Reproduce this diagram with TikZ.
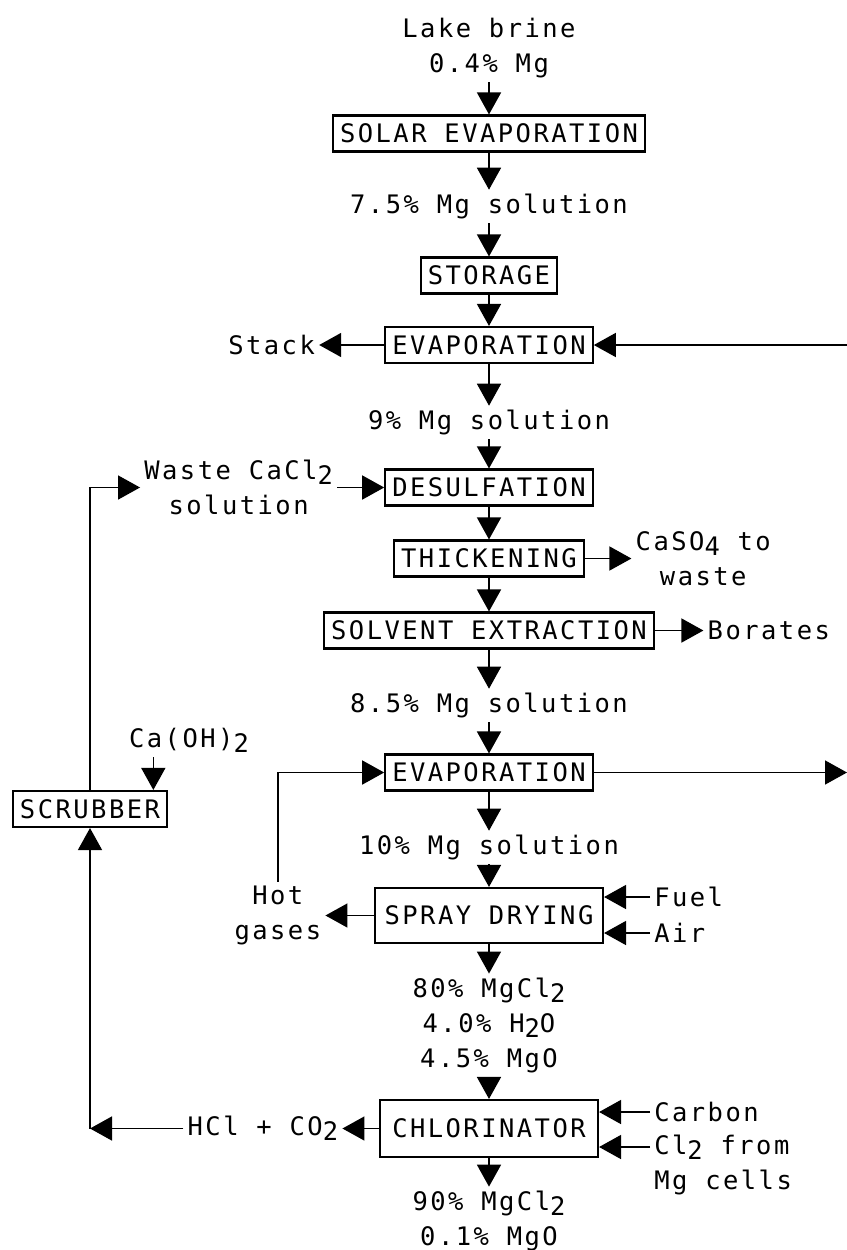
\documentclass[tikz,border=0pt]{standalone}
\usepackage{fontspec}
\newfontfamily\plotfont[LetterSpace=9.7]{DejaVu Sans Mono}
\usetikzlibrary{arrows.meta,positioning}
\newcommand\low[1]{\raisebox{-3pt}{#1}}

\begin{document}
\begin{tikzpicture}[x=0.2mm,y=-0.2mm,>={Triangle[length=4.4mm,width=4.8mm]},line width=0.9pt,
  every node/.style={font=\plotfont\fontsize{14.5}{20}\selectfont}]
  \tikzstyle{box}=[draw,line width=1.2pt,inner xsep=4pt,text height=10.6pt,text depth=0pt,minimum height=7.2mm]
  \tikzstyle{txt}=[inner sep=2pt,align=center]
  \useasboundingbox (0,0) rectangle (847,1250);
  % main column
  \node[txt] (lb) at (489,48) {Lake brine\\0.4\% Mg};
  \node[box] (se) at (489,133.5) {SOLAR EVAPORATION};
  \node[txt] (m1) at (489,206.5) {7.5\% Mg solution};
  \node[box] (st) at (489,275.5) {STORAGE};
  \node[box] (e1) at (489,345) {EVAPORATION};
  \node[txt] (m2) at (489,422.5) {9\% Mg solution};
  \node[box] (ds) at (489,487.5) {DESULFATION};
  \node[box] (th) at (489,558.5) {THICKENING};
  \node[box] (sx) at (489,630.5) {SOLVENT EXTRACTION};
  \node[txt] (m3) at (489,705.5) {8.5\% Mg solution};
  \node[box] (e2) at (489,772.5) {EVAPORATION};
  \node[txt] (m4) at (489,847.5) {10\% Mg solution};
  \node[box,minimum width=45.6mm,minimum height=11mm] (sp) at (489,915.5) {SPRAY DRYING};
  \node[txt] (m5) at (489,1025.5) {80\% MgCl\low{2}\\4.0\% H\low{2}O\\4.5\% MgO};
  \node[box,minimum width=43.6mm,minimum height=11.4mm] (ch) at (489,1128.5) {CHLORINATOR};
  \node[txt] (m6) at (489,1221) {90\% MgCl\low{2}\\0.1\% MgO};
  \draw[->] (lb) -- (se);
  \draw[->] (se) -- (m1);
  \draw[->] (m1) -- (st);
  \draw[->] (st) -- (e1);
  \draw[->] (e1) -- (m2);
  \draw[->] (m2) -- (ds);
  \draw[->] (ds) -- (th);
  \draw[->] (th) -- (sx);
  \draw[->] (sx) -- (m3);
  \draw[->] (m3) -- (e2);
  \draw[->] (e2) -- (m4);
  \draw[->] (m4) -- (sp);
  \draw[->] (sp) -- (m5);
  \draw[->] (m5) -- (ch);
  \draw[->] (ch) -- (m6);
  % side streams
  \node[txt,left=13mm of e1] (sk) {Stack};
  \draw[->] (e1) -- (sk);
  \coordinate (r1) at (847,345);
  \draw[->] (r1) -- (e1);
  \node[txt,left=9.4mm of ds] (wc) {Waste CaCl\low{2}\\solution};
  \draw[->] (wc) -- (ds);
  \node[txt,right=9.3mm of th] (ca) {CaSO\low{4} to\\waste};
  \draw[->] (th) -- (ca);
  \node[txt,right=9.7mm of sx] (bo) {Borates};
  \draw[->] (sx) -- (bo);
  \coordinate (r2) at (847,772.5);
  \draw[->] (e2) -- (r2);
  \node[txt,left=9.7mm of sp] (hg) {Hot\\gases};
  \draw[->] (sp) -- (hg);
  \draw[->] (hg) |- (e2);
  \node[txt,anchor=west] (fu) at (650,897) {Fuel};
  \node[txt,anchor=west] (ai) at (650,933) {Air};
  \draw[->] (fu) -- (fu -| sp.east);
  \draw[->] (ai) -- (ai -| sp.east);
  \node[txt,anchor=west] (cb) at (650,1112) {Carbon};
  \node[txt,anchor=west] (cl) at (650,1147) {Cl\low{2} from};
  \node[txt,anchor=west] (mc) at (650,1182) {Mg cells};
  \draw[->] (cb) -- (cb -| ch.east);
  \draw[->] (cl) -- (cl -| ch.east);
  % scrubber loop
  \node[box] (sc) at (90,809) {SCRUBBER};
  \node[txt] (oh) at (189,740.5) {Ca(OH)\low{2}};
  \draw[->] ([xshift=5.7mm]oh.south west) -- ([xshift=5.7mm]oh.south west |- sc.north);
  \node[txt,left=7.3mm of ch] (hc) {HCl + CO\low{2}};
  \draw[->] (ch) -- (hc);
  \coordinate (jn) at (hc -| sc);
  \draw[->] (hc) -- (jn);
  \draw[->] (jn) -- (sc);
  \draw[->] (sc) |- (wc);
\end{tikzpicture}
\end{document}
